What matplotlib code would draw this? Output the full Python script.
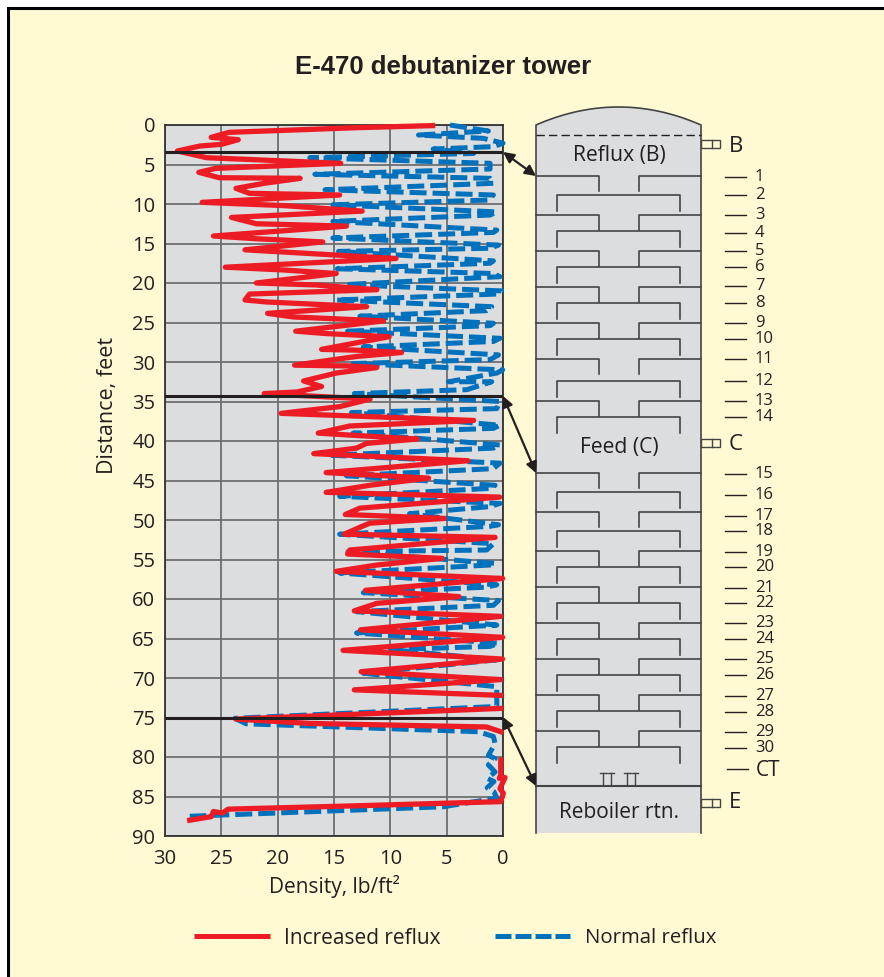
import matplotlib
matplotlib.use("Agg")
import matplotlib.pyplot as plt
from matplotlib.patches import Rectangle, Polygon
import numpy as np

plt.rcParams['font.family'] = ['Open Sans', 'DejaVu Sans']

# Data: density (lb/ft2) against distance (feet), nan = break in the trace
redDensity = [6.25, 13.0, 24.3, 25.9, 23.5, 25.0, 26.9, 28.9, 26.3, 14.4, 25.5, 27.0, 25.2, 18.0, 21.2, 23.7, 22.5, 14.5,
    26.7, 19.5, 12.5, 24.1, 21.9, 13.9, 25.7, 21.9, 16.0, 22.9, 18.0, 9.5, 24.65, 19.5, 14.8, 21.9, 16.6, 11.2,
    22.5, 22.9, 21.0, 12.1, 20.9, 18.6, 10.6, 18.4, 15.7, 10.1, 16.1, 13.0, 9.0, 13.0, 18.5, 13.6, 11.2, 14.8,
    17.7, 16.1, 18.3, 21.2, 11.8, 14.5, 19.7, 2.6, 13.6, 16.4, 13.6, 7.6, 12.1, 13.0, 16.8, 3.1, 15.7, 6.6,
    11.8, 15.7, 0.3, 12.7, 14.0, 5.2, 11.8, 12.5, 14.1, 0.7, 13.6, 13.8, 5.4, 11.2, 14.8, 0.03, 12.2, 3.9,
    11.2, 13.2, 0.2, 12.65, 0.03, 14.2, 0.03, 12.6, 0.2, 13.2, 0.2, np.nan,
    0.2, 23.7, 17.2, 1.45, 0.2, np.nan,
    0.2, 0.2, 0.33, -0.18, 0.27, -0.03, 0.2, 13.6, 24.4, 24.9, 25.7, 25.9, 27.8]
redDistance = [0.08, 0.34, 0.93, 1.56, 1.86, 2.45, 2.66, 3.29, 4.14, 4.85, 5.49, 5.99, 6.67, 6.75, 7.38, 8.02, 8.65, 8.86,
    9.79, 10.2, 10.9, 11.7, 12.5, 12.8, 14.05, 14.4, 14.8, 15.8, 16.2, 16.9, 18.0, 18.35, 18.8, 20.0, 20.25, 20.85,
    21.4, 22.15, 22.4, 23.0, 23.84, 24.3, 24.8, 26.1, 26.4, 26.8, 28.4, 28.5, 28.8, 29.3, 30.4, 30.5, 30.7, 31.4,
    32.4, 33.1, 33.8, 34.0, 34.7, 35.65, 36.5, 37.4, 38.1, 39.0, 39.25, 39.75, 40.3, 40.9, 41.6, 42.5, 44.0, 44.7,
    45.6, 46.5, 47.1, 48.5, 49.3, 49.8, 50.4, 50.8, 51.8, 52.2, 53.8, 54.3, 54.85, 55.7, 56.5, 57.4, 58.9, 59.7,
    60.55, 61.5, 62.2, 63.9, 64.85, 66.5, 67.6, 69.2, 70.2, 71.5, 72.2, np.nan,
    73.85, 75.2, 75.75, 76.2, 76.8, np.nan,
    80.4, 82.3, 82.7, 82.6, 84.0, 84.6, 85.65, 86.2, 86.6, 87.1, 86.9, 87.55, 88.0]

blueDensity = [4.7, 1.3, 7.5, 1.75, 0.0, 0.85, 6.2, 2.6, 17.15, 1.15, 1.15, 16.7, 1.15, 0.85, 15.8, 0.85, 1.3, 15.1,
    0.55, 1.15, 15.1, 0.55, 0.85, 15.1, 0.4, 1.15, 14.6, 0.85, 1.15, 14.7, 0.85, 0.27, 14.0, 0.12, 0.55, 14.8,
    1.0, 1.45, 12.7, 0.85, 1.15, 13.8, 0.27, 0.85, 12.4, 0.4, 1.15, 13.3, 0.03, 0.55, 4.85, 1.0, 3.2, 13.2,
    0.27, 0.55, 13.45, 0.27, 0.85, 13.3, 0.27, 0.85, 15.2, 0.27, 0.85, 13.9, 0.7, 1.15, 14.5, 0.27, 1.15, 8.3,
    0.4, 1.15, 14.5, 0.85, 1.45, 13.75, 0.7, 1.15, 14.5, 0.55, 1.45, 12.4, 0.4, 0.85, 13.0, 0.55, 13.0, 0.4,
    1.15, 10.0, 0.55, 12.4, 0.55, 0.55, 23.8, 22.8, 2.2, 0.85, 0.7, 1.3, 0.7, 1.3, 0.7, 1.4, 0.8, 1.4, 0.8, 0.55, 5.3, 27.8]
blueDistance = [0.0, 0.76, 1.27, 1.69, 2.3, 2.74, 3.04, 3.6, 4.14, 4.85, 5.57, 6.24, 6.75, 7.38, 8.2, 8.86, 9.5, 10.1,
    11.0, 11.4, 12.2, 13.3, 13.6, 14.3, 15.2, 15.6, 16.0, 17.2, 17.5, 18.2, 18.8, 19.2, 20.2, 21.0, 21.4, 22.15,
    23.0, 23.5, 24.2, 25.1, 25.4, 26.1, 27.0, 27.4, 28.1, 29.1, 29.7, 30.2, 31.0, 31.4, 32.5, 32.5, 33.5, 34.0,
    35.0, 35.9, 36.4, 38.0, 38.4, 39.0, 40.5, 40.9, 41.8, 42.8, 43.5, 44.4, 45.6, 46.0, 47.0, 47.9, 48.3, 49.2,
    50.6, 50.8, 51.8, 53.0, 53.8, 54.0, 55.5, 55.7, 56.7, 58.2, 58.5, 59.2, 60.2, 60.8, 61.6, 63.3, 64.3, 65.6,
    66.0, 66.4, 67.7, 69.4, 71.1, 73.6, 75.1, 75.8, 76.8, 77.4, 78.3, 79.8, 80.2, 81.0, 81.9, 82.7, 83.1, 83.9, 84.4, 85.2, 86.3, 87.5]

sectionLines = [3.4, 34.3, 75.0]
xTicks = [30, 25, 20, 15, 10, 5, 0]
yTicks = list(range(0, 95, 5))

# Tower, in pixels of the page
trayLabels = [str(i) for i in range(1, 31)]
trayLabelY = [177, 195, 215, 233, 251, 267, 286, 303, 323, 339, 359, 381, 401, 417,
    474, 495, 516, 531, 552, 567, 588, 603, 623, 639, 659, 675, 696, 712, 732, 748]
upperTrays = [176, 215, 251, 287, 323, 359, 401, 473, 512, 551, 587, 623, 659, 695, 731]
lowerTrays = [195, 231, 267, 303, 339, 381, 417, 492, 531, 567, 603, 639, 675, 711, 747]

red = '#ED1C24'
blue = '#0071BC'
cream = '#FFFAD3'
grey = '#DCDDDF'
ink = '#231F20'
W, H = 884, 977

fig = plt.figure(figsize=(W/100, H/100), dpi=100, facecolor='white')

# page and tower layer
page = fig.add_axes([0, 0, 1, 1], zorder=0)
page.set_xlim(0, W)
page.set_ylim(H, 0)
page.axis('off')
page.add_patch(Rectangle((8, 8), W, H, facecolor=cream, edgecolor='black', linewidth=2.2))

# dome and shell
tx0, tx1, tBottom, tShoulder, tTop = 536, 701, 833, 125, 107
dome = [(tx0 + (tx1-tx0)*t, tShoulder - (tShoulder-tTop)*(1-(2*t-1)**2)) for t in np.linspace(0, 1, 60)]
page.add_patch(Polygon([(tx0, tBottom)] + dome + [(tx1, tBottom)], closed=True, facecolor=grey, edgecolor='none'))
page.plot([tx0, tx0] + [p[0] for p in dome] + [tx1, tx1],
          [tBottom, tShoulder] + [p[1] for p in dome] + [tShoulder, tBottom], color='#444444', lw=1.2)
page.plot([tx0, tx1], [134.5, 134.5], color=ink, lw=1, dashes=(6, 3))
page.plot([tx0, tx1], [786, 786], color='#444444', lw=1.5)

for y in upperTrays:
    page.plot([tx0, 599, 599], [y, y, y+15], color='#444444', lw=1.2)
    page.plot([tx1, 639, 639], [y, y, y+15], color='#444444', lw=1.2)
for y in lowerTrays:
    page.plot([557, 557, 680, 680], [y+16, y, y, y+16], color='#444444', lw=1.2)

# chimney tray caps
for x in [607, 631]:
    page.plot([x-7, x+7], [773, 773], color='#444444', lw=1)
    page.plot([x-4, x-4], [773, 785], color='#444444', lw=1)
    page.plot([x+4, x+4], [773, 785], color='#444444', lw=1)

# tray numbers
for lab, y in zip(trayLabels, trayLabelY):
    page.plot([725, 746], [y, y], color=ink, lw=1)
    page.text(755, y, lab, fontsize=12, color=ink, va='center', ha='left')
page.plot([727, 748], [769, 769], color=ink, lw=1)
page.text(756, 771, 'CT', fontsize=15, color=ink, va='center', ha='left')

# nozzles
for lab, y in [('B', 146), ('C', 445), ('E', 803)]:
    page.add_patch(Rectangle((701, y-6 if lab != 'E' else y-4), 19, 8, facecolor=cream, edgecolor='#444444', lw=1))
    page.plot([712, 712], [y-6, y+2] if lab != 'E' else [y-4, y+4], color='#444444', lw=1)
    page.text(729, y, lab, fontsize=16, color=ink, va='center', ha='left')

page.text(619, 155, 'Reflux (B)', fontsize=15.2, color=ink, ha='center', va='center')
page.text(619, 447, 'Feed (C)', fontsize=15.2, color=ink, ha='center', va='center')
page.text(619, 813, 'Reboiler rtn.', fontsize=15, color=ink, ha='center', va='center')

page.text(443, 67, 'E-470 debutanizer tower', fontsize=18.5, fontweight='bold', family=['Liberation Sans'],
          color=ink, ha='center', va='center')

# chart
ax = fig.add_axes([165/W, 1-836/H, (503-165)/W, (836-125)/H], zorder=1, facecolor=grey)
ax.set_xlim(30, 0)
ax.set_ylim(90, 0)
ax.set_xticks(xTicks)
ax.set_yticks(yTicks)
ax.grid(True, color='#6E6F71', lw=1.3)
ax.set_axisbelow(True)
ax.tick_params(length=0, labelsize=14.5, labelcolor=ink, pad=7)
ax.tick_params(axis='x', pad=9)
for s in ax.spines.values():
    s.set_color('#333333')
    s.set_linewidth(1.3)
ax.set_xlabel('Density, lb/ft²', fontsize=15, color=ink, labelpad=5)
ax.set_ylabel('Distance, feet', fontsize=15.5, color=ink)
ax.yaxis.set_label_coords(-0.14, 0.606)

ax.plot(blueDensity, blueDistance, color=blue, lw=3.6, dashes=(3.4, 1.2), clip_on=False, solid_joinstyle='round', zorder=3)
ax.plot(redDensity, redDistance, color=red, lw=3.8, clip_on=False, solid_joinstyle='round', zorder=4)
for d in sectionLines:
    ax.axhline(d, color=ink, lw=2.2, zorder=5)

# arrows from the chart to the tower sections
over = fig.add_axes([0, 0, 1, 1], zorder=2)
over.set_xlim(0, W)
over.set_ylim(H, 0)
over.axis('off')
for a, b in [((503, 152), (536, 176)), ((503, 396), (536, 473)), ((503, 717), (536, 786))]:
    over.annotate('', xy=a, xytext=b, arrowprops=dict(arrowstyle='<|-|>', color=ink, lw=1.6, shrinkA=0, shrinkB=0, mutation_scale=16))

# legend
over.plot([194, 270], [935.5, 935.5], color=red, lw=3.6, solid_capstyle='butt')
over.plot([495, 570], [935.5, 935.5], color=blue, lw=3.6, dashes=(3.2, 0.8))
over.text(284, 938, 'Increased reflux', fontsize=15, color=ink, va='center')
over.text(585, 938, 'Normal reflux', fontsize=14.7, color=ink, va='center')

fig.savefig('out.png', dpi=100)
